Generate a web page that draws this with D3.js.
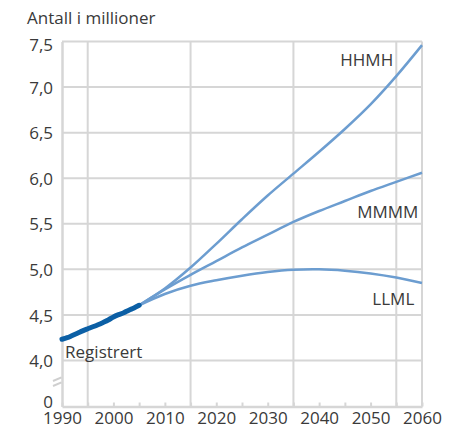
<!DOCTYPE html>
<html>
<head>
<meta charset="utf-8">
<script src="https://cdn.jsdelivr.net/npm/d3@7"></script>
<style>
    body { margin: 0; background: #fff; }
    svg text { font-family: 'Open Sans', sans-serif; fill: #3a3a3a; }
</style>
</head>
<body>
<div id="content"></div>
<script>
// registered population 1990-2005 (millions)
const REG_YEARS = [1990, 1991, 1992, 1993, 1994, 1995, 1996, 1997, 1998, 1999, 2000, 2001, 2002, 2003, 2004, 2005];
const REG_VALUES = [4.233, 4.250, 4.274, 4.299, 4.325, 4.348, 4.370, 4.393, 4.418, 4.445, 4.478, 4.503, 4.524, 4.552, 4.577, 4.606];

// projections 2005-2060
const PROJ_YEARS = [2005, 2010, 2015, 2020, 2025, 2030, 2035, 2040, 2045, 2050, 2055, 2060];
const HHMH = [4.606, 4.79, 5.02, 5.28, 5.55, 5.81, 6.05, 6.29, 6.54, 6.81, 7.12, 7.46];
const MMMM = [4.606, 4.78, 4.94, 5.09, 5.24, 5.38, 5.52, 5.64, 5.75, 5.86, 5.96, 6.06];
const LLML = [4.606, 4.73, 4.82, 4.88, 4.93, 4.97, 4.995, 5.00, 4.985, 4.955, 4.91, 4.85];

const SERIES_NAMES = ['HHMH', 'MMMM', 'LLML'];
const Y_TICKS = [0, 4, 4.5, 5, 5.5, 6, 6.5, 7, 7.5];
const X_TICKS = d3.range(1990, 2061, 5);
const X_GRID = [1995, 2015, 2035, 2055];

var width = 456;
var height = 429;

var gridColor = '#d6d6d6';
var projColor = '#6c9dd0';
var regColor = '#0b5fa5';

var svg = d3.select('#content')
    .append('svg')
    .attr('width', width)
    .attr('height', height);

var x = d3.scaleLinear().domain([1990, 2060]).range([62, 422]);
// broken axis: 0 sits just below 4.0
var y = d3.scaleLinear().domain([0, 4, 7.5]).range([406.5, 360.5, 41.5]);

svg.append('text')
    .attr('x', 27)
    .attr('y', 24)
    .style('font-size', '17px')
    .text('Antall i millioner');

// horizontal grid
svg.selectAll('.hgrid')
    .data(Y_TICKS.filter(d => d > 0))
    .enter()
    .append('line')
    .attr('class', 'hgrid')
    .attr('x1', x(1990))
    .attr('x2', x(2060))
    .attr('y1', d => y(d))
    .attr('y2', d => y(d))
    .attr('stroke', gridColor)
    .attr('stroke-width', 2);

// vertical grid + right border
svg.selectAll('.vgrid')
    .data(X_GRID.concat([2060]))
    .enter()
    .append('line')
    .attr('class', 'vgrid')
    .attr('x1', d => x(d))
    .attr('x2', d => x(d))
    .attr('y1', y(7.5))
    .attr('y2', y(0))
    .attr('stroke', gridColor)
    .attr('stroke-width', 2);

// bottom axis
var xAxis = d3.axisBottom(x)
    .tickValues(X_TICKS)
    .tickFormat(d => d % 10 === 0 ? d : '')
    .tickSizeInner(-4)
    .tickSizeOuter(0);

var gx = svg.append('g')
    .attr('transform', 'translate(0,' + y(0) + ')')
    .call(xAxis);
gx.select('.domain').attr('stroke', gridColor).attr('stroke-width', 2.5);
gx.selectAll('.tick line').attr('stroke', gridColor).attr('stroke-width', 2);
gx.selectAll('.tick text')
    .style('font-size', '17px')
    .attr('y', 17.5)
    .attr('dy', 0);

// left axis
var yAxis = d3.axisLeft(y)
    .tickValues(Y_TICKS)
    .tickFormat(d => d === 0 ? '0' : d3.format('.1f')(d).replace('.', ','))
    .tickSize(0)
    .tickPadding(9);

var gy = svg.append('g')
    .attr('transform', 'translate(' + x(1990) + ',0)')
    .call(yAxis);
gy.select('.domain').attr('stroke', gridColor).attr('stroke-width', 2.5);
gy.selectAll('.tick text')
    .style('font-size', '17px')
    .attr('dy', d => d === 7.5 ? '0.5em' : (d === 0 ? '0.08em' : '0.36em'));

// axis break marks
var bx = x(1990);
var by = 381;
[0, 5].forEach(function (o) {
    svg.append('line')
        .attr('x1', bx - 9).attr('y1', by + o)
        .attr('x2', bx - 0.5).attr('y2', by + o - 3.6)
        .attr('stroke', '#cfcfcf')
        .attr('stroke-width', 2);
});

// projections
var projLine = d3.line()
    .x((d, i) => x(PROJ_YEARS[i]))
    .y(d => y(d))
    .curve(d3.curveCatmullRom.alpha(0.5));

svg.selectAll('.proj')
    .data([HHMH, MMMM, LLML])
    .enter()
    .append('path')
    .attr('class', 'proj')
    .attr('d', projLine)
    .attr('fill', 'none')
    .attr('stroke', projColor)
    .attr('stroke-width', 2.5);

// registered
var regLine = d3.line()
    .x((d, i) => x(REG_YEARS[i]))
    .y(d => y(d))
    .curve(d3.curveMonotoneX);

svg.append('path')
    .attr('d', regLine(REG_VALUES))
    .attr('fill', 'none')
    .attr('stroke', regColor)
    .attr('stroke-width', 5)
    .attr('stroke-linecap', 'round');

// series labels
var labelPos = [
    {name: SERIES_NAMES[0], year: 2054.4, value: 7.23},
    {name: SERIES_NAMES[1], year: 2059.3, value: 5.56},
    {name: SERIES_NAMES[2], year: 2058.5, value: 4.61},
];
svg.selectAll('.series-label')
    .data(labelPos)
    .enter()
    .append('text')
    .attr('class', 'series-label')
    .attr('x', d => x(d.year))
    .attr('y', d => y(d.value))
    .attr('text-anchor', 'end')
    .style('font-size', '17px')
    .text(d => d.name);

svg.append('text')
    .attr('x', x(1990.6))
    .attr('y', y(4.03))
    .style('font-size', '17px')
    .text('Registrert');
</script>
</body>
</html>
